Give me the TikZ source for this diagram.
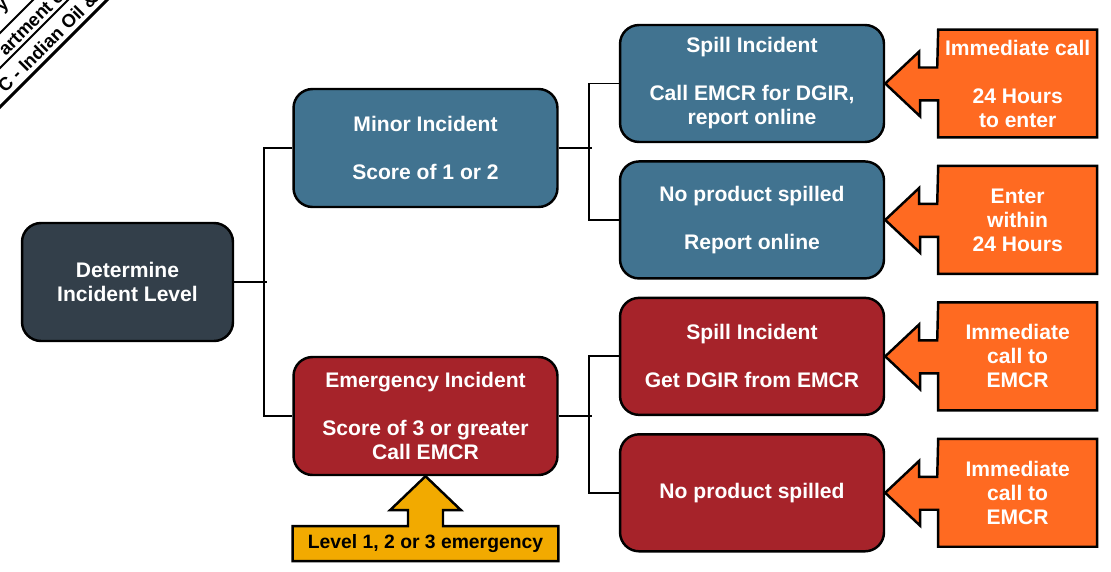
\documentclass[tikz,border=0pt]{standalone}
\usepackage{fontspec}
\setmainfont{Liberation Sans}
\usepackage{xcolor}
\usepackage{tikz}
\usetikzlibrary{positioning,backgrounds}

\definecolor{slate}{HTML}{333F4A}
\definecolor{steel}{HTML}{417390}
\definecolor{brick}{HTML}{A6232A}
\definecolor{orng}{HTML}{FF6A21}
\definecolor{gold}{HTML}{F2AA00}

\begin{document}
\begin{tikzpicture}[x=0.02cm, y=-0.02cm, line width=1.1pt, every node/.style={font=\bfseries\fontsize{12}{13.66}\selectfont, text=white, align=center}, st/.style={draw, line width=1.4pt, rounded corners=0.38cm, minimum width=5.28cm, minimum height=2.36cm}, tag/.style={minimum width=3.14cm, minimum height=2.12cm}, outl/.style={draw, line width=1.4pt, line join=miter}, bnr/.style={rotate=45, inner sep=0, text=black, font=\bfseries\fontsize{10.5}{12}\selectfont}]
\useasboundingbox (0,0) rectangle (1111,571);
% corner banner, cut by the page
\begin{scope}
\clip (0,0) rectangle (1111,571);
\draw[line width=1.8pt] (127,-20) -- (-20,127);
\draw (88,-20) -- (-20,88);
\draw (53,-20) -- (-20,53);
\node[bnr, anchor=west] (bn3) at (0,90) {C - Indian Oil \&};
\node[bnr, anchor=west] (bn2) at (1,53) {artment o};
\node[bnr] (bn1) at (4,7) {y};
\end{scope}
\node[st, fill=slate, minimum width=4.22cm] (det) at (127.5,282) {Determine\\Incident Level};
\node[st, fill=steel] (minor) at (425.5,148) {Minor Incident\\[13.66pt]Score of 1 or 2};
\node[st, fill=brick] (emer) at (425.5,416) {Emergency Incident\\[13.66pt]Score of 3 or greater\\Call EMCR};
\node[st, fill=steel, minimum height=2.34cm] (spill) at (752,83.5) {Spill Incident\\[13.66pt]Call EMCR for DGIR,\\report online};
\node[st, fill=steel, minimum height=2.34cm, below=0.34cm of spill] (noprod) {No product spilled\\[13.66pt]Report online};
\node[st, fill=brick, minimum height=2.34cm, below=0.34cm of noprod] (spillr) {Spill Incident\\[13.66pt]Get DGIR from EMCR};
\node[st, fill=brick, minimum height=2.34cm, below=0.34cm of spillr] (noprodr) {No product spilled};
\node[tag, right=1.06cm of spill] (t1) {Immediate call\\[13.66pt]24 Hours\\to enter};
\node[tag, right=1.06cm of noprod] (t2) {Enter\\within\\24 Hours};
\node[tag, right=1.06cm of spillr] (t3) {Immediate\\call to\\EMCR};
\node[tag, right=1.06cm of noprodr] (t4) {Immediate\\call to\\EMCR};
\node[minimum width=5.28cm, minimum height=0.66cm, text=black, font=\bfseries\fontsize{11}{13}\selectfont, below=1.0cm of emer] (lvl) {Level 1, 2 or 3 emergency};
\begin{scope}[on background layer]
\foreach \t/\b in {t1/spill, t2/noprod, t3/spillr, t4/noprodr}
  \draw[outl, fill=orng] (\t.north west) -- (\t.north east) -- (\t.south east) -- (\t.south west) -- ++(0,-37) -- ++(-18,0) -- ++(0,16) -- (\b.east) -- ++(34,-32) -- ++(0,16) -- ++(18,0) -- cycle;
\draw[outl, fill=gold] (lvl.north west) -- (lvl.south west) -- (lvl.south east) -- (lvl.north east) -- ([xshift=0.35cm]lvl.north) -- ++(0,-16) -- ++(18,0) -- (emer.south) -- ([xshift=-0.71cm, yshift=0.32cm]lvl.north) -- ++(18,0) -- ++(0,16) -- cycle;
\end{scope}
\draw (det.east) -- ++(33,0);
\draw (minor.west) -- ++(-28,0) |- (emer.west);
\draw (minor.east) -- ++(33,0);
\draw (spill.west) -- ++(-30,0) |- (noprod.west);
\draw (emer.east) -- ++(33,0);
\draw (spillr.west) -- ++(-30,0) |- (noprodr.west);
\end{tikzpicture}
\end{document}
